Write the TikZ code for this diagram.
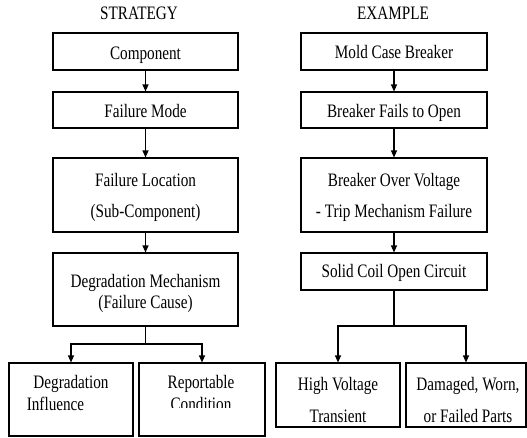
\documentclass[tikz,border=0pt]{standalone}
\usepackage{fontspec}
\setmainfont{Liberation Serif}
\usetikzlibrary{arrows.meta}
\newcommand{\sqz}[1]{\scalebox{0.8}[1]{#1}}
\begin{document}
\begin{tikzpicture}[x=1pt,y=-1pt,
  box/.style={draw, line width=1.1pt, inner sep=0pt},
  lbl/.style={inner sep=0pt, anchor=base, font=\fontsize{19}{22}\selectfont},
  conn/.style={line width=1.1pt, -{Triangle[length=7pt,width=6pt]}},
  wire/.style={line width=1.1pt}]
\useasboundingbox (0,0) rectangle (527,437);
% titles
\node[lbl] (t1) at (139,19) {\sqz{STRATEGY}};
\node[lbl] (t2) at (393,19) {\sqz{EXAMPLE}};
% left column
\node[box, minimum width=185pt, minimum height=37pt] (comp) at (145.5,51.5) {};
\node[lbl] (compa) at (145.5,59) {\sqz{Component}};
\node[box, minimum width=185pt, minimum height=36pt] (fmode) at (145.5,110) {};
\node[lbl] (fmodea) at (145.5,117) {\sqz{Failure Mode}};
\node[box, minimum width=185pt, minimum height=74pt] (floc) at (145.5,195) {};
\node[lbl] (floca) at (145.5,186) {\sqz{Failure Location}};
\node[lbl] (flocb) at (145.5,217) {\sqz{(Sub-Component)}};
\node[box, minimum width=185pt, minimum height=73pt] (deg) at (145.5,289.5) {};
\node[lbl] (dega) at (145.5,287) {\sqz{Degradation Mechanism}};
\node[lbl] (degb) at (145.5,308) {\sqz{(Failure Cause)}};
\node[box, minimum width=124pt, minimum height=73pt] (dinf) at (71,399.5) {};
\node[lbl] (dinfa) at (71,388) {\sqz{Degradation}};
\node[lbl] (dinfb) at (55.5,410) {\sqz{Influence}};
\node[box, minimum width=126pt, minimum height=73pt] (rcond) at (202,399.5) {};
\node[lbl] (rconda) at (201,388) {\sqz{Reportable}};
\begin{scope}
\clip (140,394) rectangle (264,407);
\node[lbl] (rcondb) at (201,410) {\sqz{Condition}};
\end{scope}
% right column
\node[box, minimum width=186pt, minimum height=37pt] (mcb) at (394,51.5) {};
\node[lbl] (mcba) at (394,58.5) {\sqz{Mold Case Breaker}};
\node[box, minimum width=186pt, minimum height=36pt] (bfo) at (394,110) {};
\node[lbl] (bfoa) at (394,117) {\sqz{Breaker Fails to Open}};
\node[box, minimum width=186pt, minimum height=74pt] (bov) at (394,195) {};
\node[lbl] (bova) at (394,186) {\sqz{Breaker Over Voltage}};
\node[lbl] (bovb) at (394,217) {\sqz{- Trip Mechanism Failure}};
\node[box, minimum width=186pt, minimum height=37pt] (scoc) at (394,271.5) {};
\node[lbl] (scoca) at (394,277.5) {\sqz{Solid Coil Open Circuit}};
\node[box, minimum width=124pt, minimum height=64pt] (hvt) at (338,395) {};
\node[lbl] (hvta) at (338,390) {\sqz{High Voltage}};
\node[lbl] (hvtb) at (338,422) {\sqz{Transient}};
\node[box, minimum width=120pt, minimum height=64pt] (dwf) at (466,395) {};
\node[lbl] (dwfa) at (468,390) {\sqz{Damaged, Worn,}};
\node[lbl] (dwfb) at (468,422) {\sqz{or Failed Parts}};
% connectors left
\draw[conn] (comp) -- (fmode);
\draw[conn] (fmode) -- (floc);
\draw[conn] (floc) -- (deg);
\coordinate (lj) at (145.5,344);
\draw[wire] (deg.south) -- (lj);
\draw[conn] (lj) -| (dinf.north);
\draw[conn] (lj) -| (rcond.north);
% connectors right
\draw[conn] (mcb) -- (bfo);
\draw[conn] (bfo) -- (bov);
\draw[conn] (bov) -- (scoc);
\coordinate (rj) at (394,326);
\draw[wire] (scoc.south) -- (rj);
\draw[conn] (rj) -| (hvt.north);
\draw[conn] (rj) -| (dwf.north);
\end{tikzpicture}
\end{document}
